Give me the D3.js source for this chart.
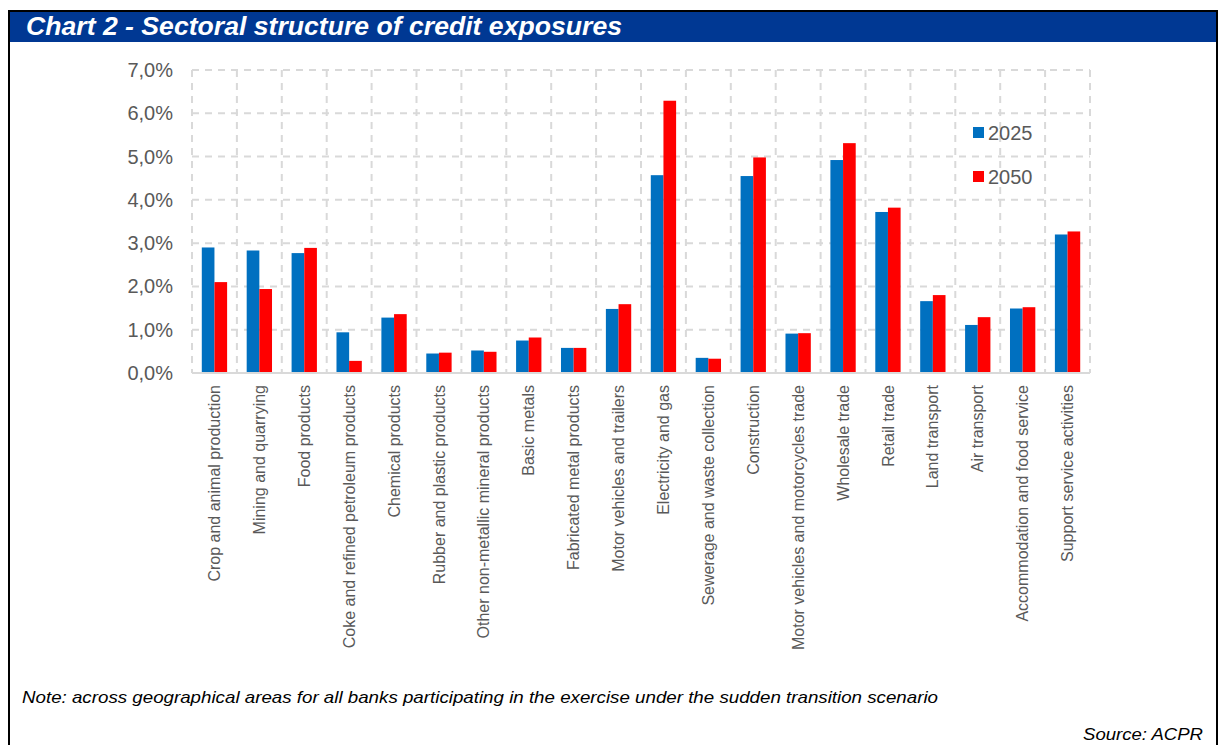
<!DOCTYPE html>
<html>
<head>
<meta charset="utf-8">
<script src="https://cdn.jsdelivr.net/npm/d3@7"></script>
<style>
  body { margin: 0; background: #fff; }
  svg { display: block; font-family: Arial, "Liberation Sans", sans-serif; }
</style>
</head>
<body>
<div id="chart"></div>
<script>
// data (share of credit exposures, %)
var sectors = [
  "Crop and animal production", "Mining and quarrying", "Food products",
  "Coke and refined petroleum products", "Chemical products",
  "Rubber and plastic products", "Other non-metallic mineral products",
  "Basic metals", "Fabricated metal products", "Motor vehicles and trailers",
  "Electricity and gas", "Sewerage and waste collection", "Construction",
  "Motor vehicles and motorcycles trade", "Wholesale trade", "Retail trade",
  "Land transport", "Air transport", "Accommodation and food service",
  "Support service activities"
]
var values2025 = [2.90, 2.83, 2.77, 0.94, 1.28, 0.45, 0.52, 0.75, 0.58, 1.48,
                  4.57, 0.35, 4.55, 0.91, 4.92, 3.72, 1.66, 1.11, 1.49, 3.20]
var values2050 = [2.10, 1.94, 2.89, 0.28, 1.36, 0.47, 0.49, 0.82, 0.58, 1.59,
                  6.29, 0.33, 4.98, 0.92, 5.31, 3.82, 1.80, 1.29, 1.52, 3.27]
var series = ["2025", "2050"]
var seriesColors = ["#0070C0", "#FF0000"]
var yTicks = [0, 1, 2, 3, 4, 5, 6, 7]

var w = 1224, h = 745

var svg = d3.select("#chart")
  .append("svg")
  .attr("width", w)
  .attr("height", h)

// frame + header
svg.append("rect")
  .attr("x", 9).attr("y", 11)
  .attr("width", 1208).attr("height", 760)
  .attr("fill", "none")
  .attr("stroke", "#000")
  .attr("stroke-width", 2)

svg.append("rect")
  .attr("x", 10).attr("y", 12)
  .attr("width", 1206).attr("height", 30)
  .attr("fill", "#003893")

svg.append("text")
  .attr("x", 26).attr("y", 35)
  .attr("fill", "#fff")
  .attr("textLength", 596)
  .attr("lengthAdjust", "spacingAndGlyphs")
  .style("font-size", "25px")
  .style("font-weight", "bold")
  .style("font-style", "italic")
  .text("Chart 2 - Sectoral structure of credit exposures")

// scales
var x0 = d3.scaleBand()
  .domain(sectors)
  .range([192, 1090])
  .padding(0)

var bw = x0.bandwidth()
var x1 = d3.scaleBand()
  .domain(series)
  .range([bw * 0.218, bw * 0.782])
  .padding(0)

var y = d3.scaleLinear()
  .domain([0, 7])
  .range([373, 70])

var color = d3.scaleOrdinal().domain(series).range(seriesColors)

// gridlines
var grid = svg.append("g")
grid.selectAll(".hgrid")
  .data(yTicks.filter(function(d) { return d > 0 }))
  .enter().append("line")
  .attr("x1", 192).attr("x2", 1090)
  .attr("y1", function(d) { return y(d) })
  .attr("y2", function(d) { return y(d) })
  .attr("stroke", "#d9d9d9")
  .attr("stroke-width", 2)
  .attr("stroke-dasharray", "7,6")

var bounds = sectors.map(function(s) { return x0(s) }).concat([1090])
grid.selectAll(".vgrid")
  .data(bounds)
  .enter().append("line")
  .attr("x1", function(d) { return d })
  .attr("x2", function(d) { return d })
  .attr("y1", y(7)).attr("y2", y(0))
  .attr("stroke", "#d9d9d9")
  .attr("stroke-width", 2)
  .attr("stroke-dasharray", "7,6")

// bars
var rows = sectors.map(function(s, i) {
  return { sector: s, vals: [
    { key: "2025", v: values2025[i] },
    { key: "2050", v: values2050[i] }
  ] }
})

var groups = svg.append("g").selectAll("g")
  .data(rows)
  .enter().append("g")
  .attr("transform", function(d) { return "translate(" + x0(d.sector) + ",0)" })

groups.selectAll("rect")
  .data(function(d) { return d.vals })
  .enter().append("rect")
  .attr("x", function(d) { return x1(d.key) })
  .attr("width", x1.bandwidth())
  .attr("y", function(d) { return y(d.v) })
  .attr("height", function(d) { return y(0) - y(d.v) })
  .attr("fill", function(d) { return color(d.key) })

// x axis line
svg.append("line")
  .attr("x1", 192).attr("x2", 1090)
  .attr("y1", y(0)).attr("y2", y(0))
  .attr("stroke", "#d9d9d9")
  .attr("stroke-width", 2)

// y tick labels
var fmt = function(d) { return d.toFixed(1).replace(".", ",") + "%" }
svg.append("g").selectAll("text")
  .data(yTicks)
  .enter().append("text")
  .attr("x", 173)
  .attr("y", function(d) { return y(d) })
  .attr("dy", "0.35em")
  .attr("text-anchor", "end")
  .attr("fill", "#595959")
  .style("font-size", "20px")
  .text(fmt)

// category labels
svg.append("g").selectAll("text")
  .data(sectors)
  .enter().append("text")
  .attr("transform", function(d) {
    return "translate(" + (x0(d) + bw / 2) + ",385) rotate(-90)"
  })
  .attr("dy", "0.35em")
  .attr("text-anchor", "end")
  .attr("fill", "#595959")
  .style("font-size", "16px")
  .text(function(d) { return d })

// legend
var leg = svg.append("g").selectAll("g")
  .data(series)
  .enter().append("g")
  .attr("transform", function(d, i) { return "translate(973," + (127 + i * 44) + ")" })

leg.append("rect")
  .attr("width", 11).attr("height", 11)
  .attr("fill", function(d) { return color(d) })

leg.append("text")
  .attr("x", 15).attr("y", 6)
  .attr("dy", "0.35em")
  .attr("fill", "#595959")
  .style("font-size", "20px")
  .text(function(d) { return d })

// note + source
svg.append("text")
  .attr("x", 22).attr("y", 703)
  .attr("textLength", 916)
  .attr("lengthAdjust", "spacingAndGlyphs")
  .style("font-size", "17px")
  .style("font-style", "italic")
  .attr("fill", "#000")
  .text("Note: across geographical areas for all banks participating in the exercise under the sudden transition scenario")

svg.append("text")
  .attr("x", 1083).attr("y", 740)
  .attr("textLength", 120)
  .attr("lengthAdjust", "spacingAndGlyphs")
  .style("font-size", "17px")
  .style("font-style", "italic")
  .attr("fill", "#000")
  .text("Source: ACPR")
</script>
</body>
</html>
